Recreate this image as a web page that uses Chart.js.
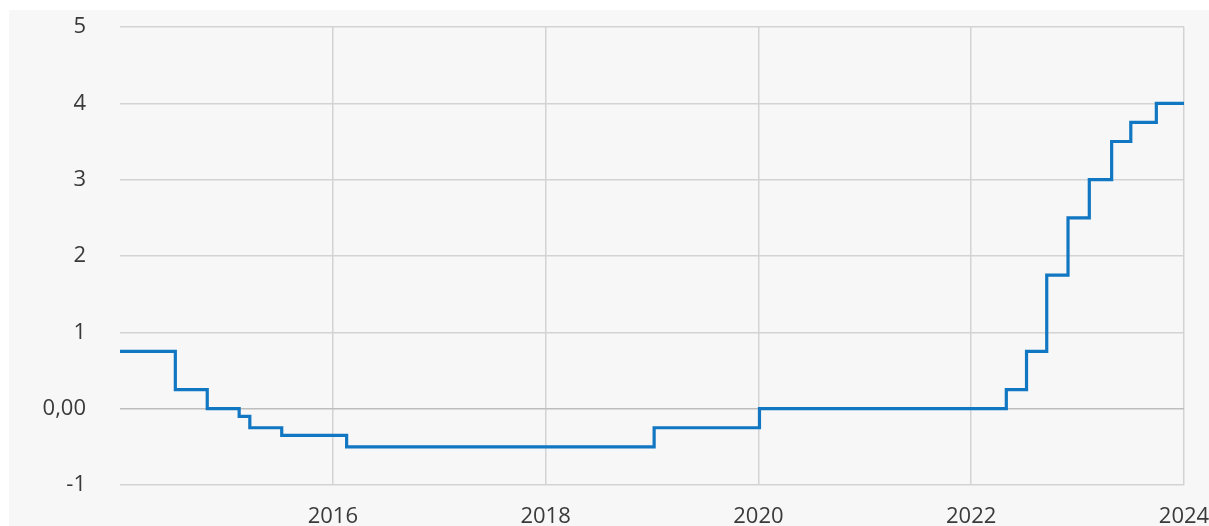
<!DOCTYPE html>
<html>
<head>
<meta charset="utf-8">
<script src="https://cdn.jsdelivr.net/npm/chart.js@4"></script>
<style>
  html, body { margin: 0; padding: 0; background: #fff; }
  #wrap { position: absolute; left: 9px; top: 10px; width: 1200px; height: 516px; background: #f7f7f7; }
</style>
</head>
<body>
<div id="wrap"><canvas id="chart" width="1200" height="516"></canvas></div>
<script>
// datum för ändring (decimalår) och ny ränta
const changeDates = [2014.0, 2014.52, 2014.82, 2015.12, 2015.22, 2015.52, 2016.13, 2019.02, 2020.01,
  2022.33, 2022.52, 2022.71, 2022.91, 2023.11, 2023.32, 2023.50, 2023.74, 2024.0];
const rates = [0.75, 0.25, 0, -0.10, -0.25, -0.35, -0.50, -0.25, 0,
  0.25, 0.75, 1.75, 2.5, 3.0, 3.5, 3.75, 4.0, 4.0];
const yTicks = [-1, 0, 1, 2, 3, 4, 5];
const xTicks = [2016, 2018, 2020, 2022, 2024];

const gridColor = '#d3d3d3';
const zeroColor = '#bdbdbd';
const textColor = '#3a3a3a';

// skalans egen autopadding stänger vi av, layouten styrs med padding nedan
function noPad(s) {
  s.paddingTop = 0; s.paddingBottom = 0; s.paddingLeft = 0; s.paddingRight = 0;
}

new Chart(document.getElementById('chart'), {
  type: 'line',
  data: {
    datasets: [{
      data: changeDates.map((d, i) => ({ x: d, y: rates[i] })),
      borderColor: '#1177c2',
      borderWidth: 3.2,
      pointRadius: 0,
      stepped: true,
      fill: false
    }]
  },
  options: {
    responsive: false,
    animation: false,
    layout: { padding: { left: 0, right: 25, top: 17, bottom: 0 } },
    plugins: { legend: { display: false }, tooltip: { enabled: false } },
    scales: {
      x: {
        type: 'linear',
        min: 2014,
        max: 2024,
        afterBuildTicks: s => { s.ticks = [2014].concat(xTicks).map(v => ({ value: v })); },
        afterFit: s => { s.height = 41; noPad(s); },
        border: { display: false },
        grid: {
          drawTicks: false,
          color: c => (c.tick && c.tick.value === 2014) ? 'rgba(0,0,0,0)' : gridColor,
          lineWidth: 1.5
        },
        ticks: {
          padding: 19,
          maxRotation: 0,
          autoSkip: false,
          color: textColor,
          font: { family: 'Open Sans', size: 22 },
          callback: v => v === 2014 ? '' : String(v)
        }
      },
      y: {
        min: -1,
        max: 5,
        afterBuildTicks: s => { s.ticks = yTicks.map(v => ({ value: v })); },
        afterFit: s => { s.width = 111; noPad(s); },
        border: { display: false },
        grid: {
          drawTicks: false,
          color: c => (c.tick && c.tick.value === 0) ? zeroColor : gridColor,
          lineWidth: 1.5
        },
        ticks: {
          padding: 34,
          color: textColor,
          font: { family: 'Open Sans', size: 22 },
          callback: v => v === 0 ? '0,00' : String(v)
        }
      }
    }
  }
});
</script>
</body>
</html>
